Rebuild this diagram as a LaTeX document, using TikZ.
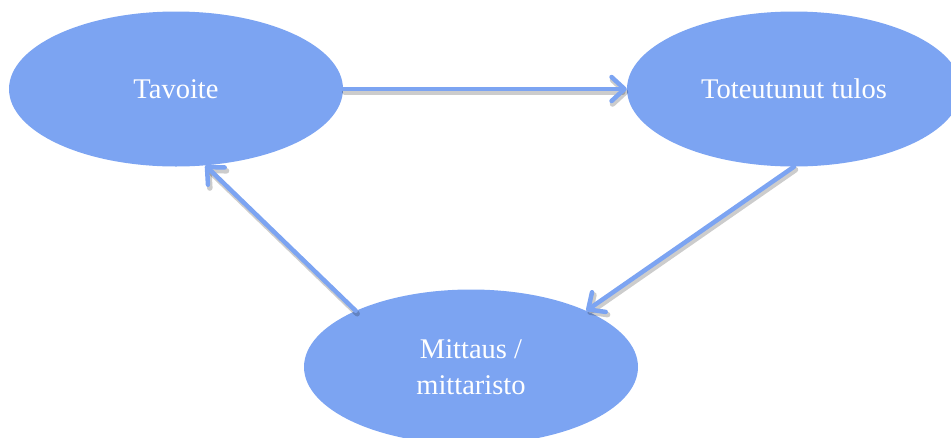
\documentclass[tikz,border=0pt]{standalone}
\usepackage{fontspec}
\setmainfont{Liberation Serif}
\usetikzlibrary{shapes.geometric,arrows.meta}
\definecolor{ovalblue}{RGB}{124,164,242}
\tikzset{
  oval/.style={ellipse, fill=ovalblue, draw=none, minimum width=334pt, minimum height=155pt,
    inner sep=0pt, text=white, align=center, font=\fontsize{28.5}{36}\selectfont},
  link/.style={draw=ovalblue, line width=4.5pt, line cap=round,
    -{Straight Barb[length=13pt,width=24pt,line cap=round,line join=round]}},
  linkshadow/.style={draw=black, draw opacity=0.2, line width=5.5pt, line cap=round,
    transform canvas={xshift=1.5pt,yshift=-3pt},
    -{Straight Barb[length=13pt,width=24pt,line cap=round,line join=round]}}
}
\begin{document}
\begin{tikzpicture}[x=1pt,y=-1pt]
\useasboundingbox (0,0) rectangle (951,437);
\clip (0,0) rectangle (951,437);
\node[oval] (tav) at (176,89) {Tavoite};
\node[oval] (tot) at (794,89) {Toteutunut tulos};
\node[oval] (mit) at (471,367) {Mittaus /\\mittaristo};
\draw[linkshadow] (tav.east) -- (tot.west);
\draw[linkshadow] (mit.154) -- (tav.291);
\draw[linkshadow] (tot.270) -- (mit.26);
\draw[link] (tav.east) -- (tot.west);
\draw[link] (mit.154) -- (tav.291);
\draw[link] (tot.270) -- (mit.26);
\end{tikzpicture}
\end{document}
